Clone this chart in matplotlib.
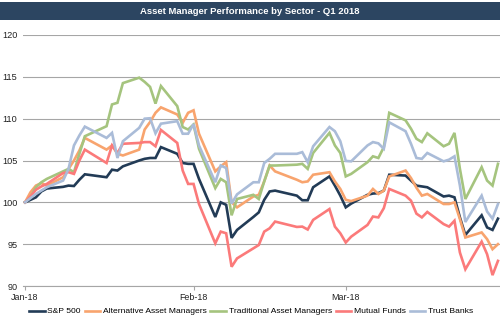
import matplotlib
matplotlib.use("Agg")
import matplotlib.pyplot as plt
import pandas as pd
from matplotlib.patches import Rectangle

plt.rcParams['font.family'] = ['Liberation Sans', 'DejaVu Sans']

date_strings = [
    "2018-01-01", "2018-01-02", "2018-01-03", "2018-01-04", "2018-01-05",
    "2018-01-08", "2018-01-09", "2018-01-10", "2018-01-11", "2018-01-12",
    "2018-01-16", "2018-01-17", "2018-01-18", "2018-01-19",
    "2018-01-22", "2018-01-23", "2018-01-24", "2018-01-25", "2018-01-26",
    "2018-01-29", "2018-01-30", "2018-01-31", "2018-02-01", "2018-02-02",
    "2018-02-05", "2018-02-06", "2018-02-07", "2018-02-08", "2018-02-09",
    "2018-02-12", "2018-02-13", "2018-02-14", "2018-02-15", "2018-02-16",
    "2018-02-20", "2018-02-21", "2018-02-22", "2018-02-23",
    "2018-02-26", "2018-02-27", "2018-02-28", "2018-03-01", "2018-03-02",
    "2018-03-05", "2018-03-06", "2018-03-07", "2018-03-08", "2018-03-09",
    "2018-03-12", "2018-03-13", "2018-03-14", "2018-03-15", "2018-03-16",
    "2018-03-19", "2018-03-20", "2018-03-21", "2018-03-22", "2018-03-23",
    "2018-03-26", "2018-03-27", "2018-03-28", "2018-03-29",
]

sp500 = [100, 100.3, 100.6, 101.3, 101.65, 101.85, 102.0, 101.95, 102.7, 103.35,
         103.0, 103.9, 103.8, 104.3, 105.0, 105.2, 105.3, 105.3, 106.6,
         105.8, 104.7, 104.6, 104.6, 102.8, 98.25, 100.0, 99.7, 95.75, 96.7,
         98.25, 98.8, 100.3, 101.3, 101.4, 100.8, 100.25, 100.25, 101.8,
         103.1, 102.0, 100.8, 99.4, 99.85, 100.9, 101.05, 101.1, 101.4, 103.3,
         103.2, 102.6, 102.0, 101.9, 101.8, 100.7, 100.8, 100.6, 98.2, 96.1,
         98.45, 97.0, 96.7, 98.05]

alt_managers = [100, 101.2, 102.0, 102.3, 102.0, 103.0, 104.0, 105.0, 106.2, 107.7,
                106.3, 106.8, 105.8, 105.6, 106.3, 108.7, 109.6, 110.7, 111.35,
                110.5, 109.5, 110.7, 111.0, 108.2, 103.7, 104.3, 104.8, 100.0, 99.4,
                100.7, 100.9, 102.5, 104.4, 103.7, 102.7, 102.4, 102.5, 103.3,
                103.6, 102.5, 101.6, 100.3, 100.15, 100.8, 101.6, 101.0, 101.4, 103.1,
                103.8, 102.9, 101.75, 100.8, 101.0, 99.8, 99.8, 100.0, 98.0, 95.8,
                96.4, 95.6, 94.4, 95.0]

trad_managers = [100, 100.6, 101.8, 102.4, 102.8, 103.7, 104.0, 103.6, 105.8, 107.9,
                 109.1, 111.7, 111.9, 114.25, 114.9, 114.4, 113.8, 111.8, 113.9,
                 111.5, 109.0, 108.7, 109.3, 106.4, 101.7, 102.8, 102.4, 98.45, 100.4,
                 100.9, 100.4, 102.5, 104.4, 104.4, 104.5, 104.6, 104.0, 105.9,
                 108.3, 106.8, 105.9, 103.1, 103.4, 104.8, 105.5, 105.3, 106.6, 110.7,
                 109.8, 108.8, 107.6, 107.2, 108.25, 106.7, 107.0, 108.3, 104.0, 100.4,
                 104.2, 102.6, 102.0, 104.6]

mutual_funds = [100, 100.7, 101.5, 101.9, 102.2, 103.5, 103.6, 103.4, 105.0, 106.3,
                104.7, 106.8, 105.9, 107.0, 107.1, 107.2, 107.2, 106.7, 108.65,
                107.1, 103.8, 102.2, 102.2, 99.8, 95.1, 96.5, 96.3, 92.3, 93.3,
                94.5, 94.9, 96.5, 96.9, 97.7, 97.06, 97.1, 96.75, 97.9,
                99.2, 97.1, 96.3, 95.2, 95.9, 97.3, 98.3, 98.2, 99.3, 101.6,
                100.8, 100.2, 98.65, 98.2, 98.85, 97.4, 97.1, 97.8, 94.0, 92.0,
                95.3, 93.8, 91.3, 93.0]

trust_banks = [100, 100.5, 101.0, 101.4, 101.8, 102.6, 104.0, 106.8, 108.0, 109.05,
               107.7, 108.3, 105.3, 107.3, 108.9, 110.0, 110.05, 108.25, 109.4,
               109.7, 108.2, 108.2, 109.35, 106.8, 102.4, 104.4, 104.1, 99.85, 100.95,
               102.4, 102.4, 104.7, 105.2, 105.8, 105.8, 106.0, 104.8, 106.7,
               109.0, 108.5, 107.3, 104.95, 104.9, 106.8, 107.2, 107.05, 106.4, 109.56,
               108.5, 107.0, 105.3, 105.2, 105.9, 104.9, 105.1, 105.5, 102.0, 97.65,
               100.8, 98.9, 98.05, 99.8]

series_names = ["S&P 500", "Alternative Asset Managers", "Traditional Asset Managers",
                "Mutual Funds", "Trust Banks"]
series_colors = ["#223B56", "#F8A46E", "#A5C47E", "#FB7A7A", "#AABCD8"]
tick_dates = ["2018-01-01", "2018-02-01", "2018-03-01"]
tick_labels = ["Jan-18", "Feb-18", "Mar-18"]
y_ticks = [90, 95, 100, 105, 110, 115, 120]
title = "Asset Manager Performance by Sector - Q1 2018"

dates = pd.to_datetime(date_strings)
all_series = [sp500, alt_managers, trad_managers, mutual_funds, trust_banks]

fig = plt.figure(figsize=(5.0, 3.26), dpi=100)
fig.patch.set_facecolor("white")

# header band
fig.patches.append(Rectangle((0, 1 - 19.5 / 326), 1, 17.8 / 326, transform=fig.transFigure,
                             facecolor="#2C4561", edgecolor="none", zorder=0))
fig.text(0.5, 1 - 11.5 / 326, title, color="white", fontsize=6.8, fontweight="bold",
         ha="center", va="center")

ax = fig.add_axes([23 / 500, 1 - 286 / 326, 477 / 500, 251 / 326])
for name, vals, col in zip(series_names, all_series, series_colors):
    ax.plot(dates, vals, color=col, lw=1.9, label=name, solid_joinstyle="miter")

ax.set_ylim(90, 120)
ax.set_yticks(y_ticks)
ax.set_yticklabels([str(v) for v in y_ticks])
x0 = pd.Timestamp("2018-01-01") - pd.Timedelta(hours=9)
x1 = pd.Timestamp("2018-03-29") + pd.Timedelta(hours=9)
ax.set_xlim(x0, x1)
ax.set_xticks(pd.to_datetime(tick_dates))
ax.set_xticklabels(tick_labels)

ax.grid(axis="y", color="#A6A6A6", lw=0.8)
ax.set_axisbelow(True)
for s in ["top", "right", "left"]:
    ax.spines[s].set_visible(False)
ax.spines["bottom"].set_color("#A6A6A6")
ax.spines["bottom"].set_linewidth(0.8)
ax.tick_params(axis="y", length=0, labelsize=6.6, pad=4, labelcolor="#222222")
ax.tick_params(axis="x", length=3, width=0.8, color="#A6A6A6", labelsize=6.4, pad=2,
               labelcolor="#222222")

fig.legend(loc="center", bbox_to_anchor=(0.502, 1 - 311.5 / 326), ncol=5, frameon=False,
           fontsize=6.1, handlelength=1.85, handletextpad=0.3, columnspacing=0.45,
           borderaxespad=0, borderpad=0)

fig.savefig("out.png", dpi=100, facecolor="white")
